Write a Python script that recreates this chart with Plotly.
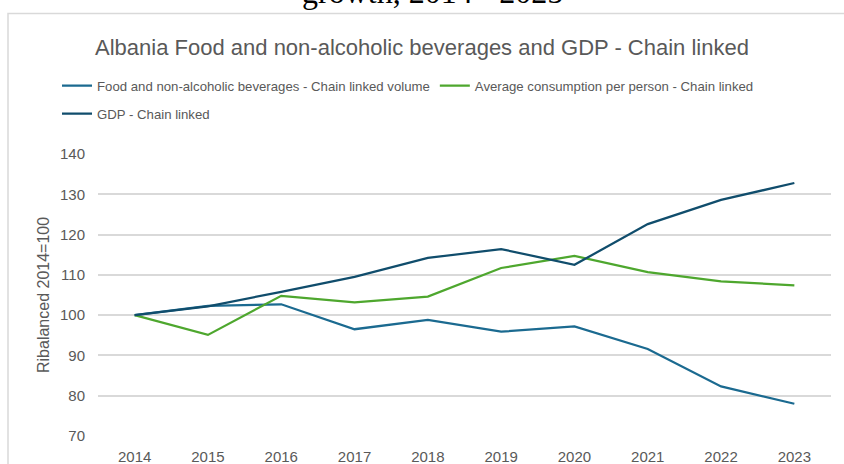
import plotly.graph_objects as go

years = [2014, 2015, 2016, 2017, 2018, 2019, 2020, 2021, 2022, 2023]
food_volume = [100, 102.3, 102.7, 96.5, 98.8, 95.9, 97.2, 91.6, 82.3, 78.0]
avg_consumption = [100, 95.1, 104.8, 103.2, 104.6, 111.7, 114.7, 110.7, 108.4, 107.4]
gdp = [100, 102.2, 105.8, 109.5, 114.2, 116.4, 112.5, 122.6, 128.6, 132.8]

names = ["Food and non-alcoholic beverages - Chain linked volume",
         "Average consumption per person - Chain linked",
         "GDP - Chain linked"]
colors = ["#1b6a90", "#4ea72e", "#104d6c"]

W, H = 844, 464
L, R, T, B = 98, 13, 154, 28
pw, ph = W - L - R, H - T - B


def px_x(x):
    return (x - L) / pw


def px_y(y):
    return (H - B - y) / ph


FONT = "Liberation Sans, Arial, sans-serif"
GRAY = "#595959"

fig = go.Figure()
fig.add_trace(go.Scatter(x=years, y=food_volume, name=names[0], mode="lines",
                         line=dict(color=colors[0], width=2.25), legend="legend"))
fig.add_trace(go.Scatter(x=years, y=avg_consumption, name=names[1], mode="lines",
                         line=dict(color=colors[1], width=2.25), legend="legend"))
fig.add_trace(go.Scatter(x=years, y=gdp, name=names[2], mode="lines",
                         line=dict(color=colors[2], width=2.25), legend="legend2"))

fig.update_layout(
    width=W, height=H,
    margin=dict(l=L, r=R, t=T, b=B, pad=0, autoexpand=False),
    paper_bgcolor="white", plot_bgcolor="rgba(0,0,0,0)",
    font=dict(family=FONT, color=GRAY),
    title=dict(text="Albania Food and non-alcoholic beverages and GDP - Chain linked",
               x=422 / W, xanchor="center", xref="container", y=1 - 47 / H, yanchor="middle",
               font=dict(family=FONT, size=22, color=GRAY)),
    legend=dict(orientation="h", x=px_x(57), xanchor="left", y=px_y(86), yanchor="middle",
                font=dict(family=FONT, size=13.2, color=GRAY), bgcolor="rgba(0,0,0,0)"),
    legend2=dict(orientation="h", x=px_x(57), xanchor="left", y=px_y(114), yanchor="middle",
                 font=dict(family=FONT, size=13.2, color=GRAY), bgcolor="rgba(0,0,0,0)"),
    xaxis=dict(range=[2013.5, 2023.5], tickvals=years, ticktext=[str(y) for y in years],
               showgrid=False, zeroline=False, showline=False, automargin=False,
               tickfont=dict(family=FONT, size=15, color=GRAY), ticklabelstandoff=10),
    yaxis=dict(range=[70, 140], dtick=10, showgrid=True, gridcolor="#d9d9d9", gridwidth=1.5,
               zeroline=False, showline=False, automargin=False,
               tickfont=dict(family=FONT, size=15, color=GRAY), ticklabelstandoff=12),
    showlegend=True,
)

fig.add_annotation(text="Ribalanced 2014=100", xref="paper", yref="paper",
                   x=px_x(43), y=px_y(295), xanchor="center", yanchor="middle",
                   textangle=-90, showarrow=False,
                   font=dict(family=FONT, size=16, color=GRAY))

fig.add_annotation(text="growth, 2014 - 2025", xref="paper", yref="paper",
                   x=px_x(432), y=px_y(-8), xanchor="center", yanchor="middle",
                   showarrow=False,
                   font=dict(family="Liberation Serif, Times New Roman, serif", size=32, color="black"))

fig.add_shape(type="rect", xref="paper", yref="paper",
              x0=px_x(8), x1=px_x(900), y0=px_y(600), y1=px_y(13.5),
              line=dict(color="#d9d9d9", width=1.5), fillcolor="rgba(0,0,0,0)")

fig.write_html("out.html")
